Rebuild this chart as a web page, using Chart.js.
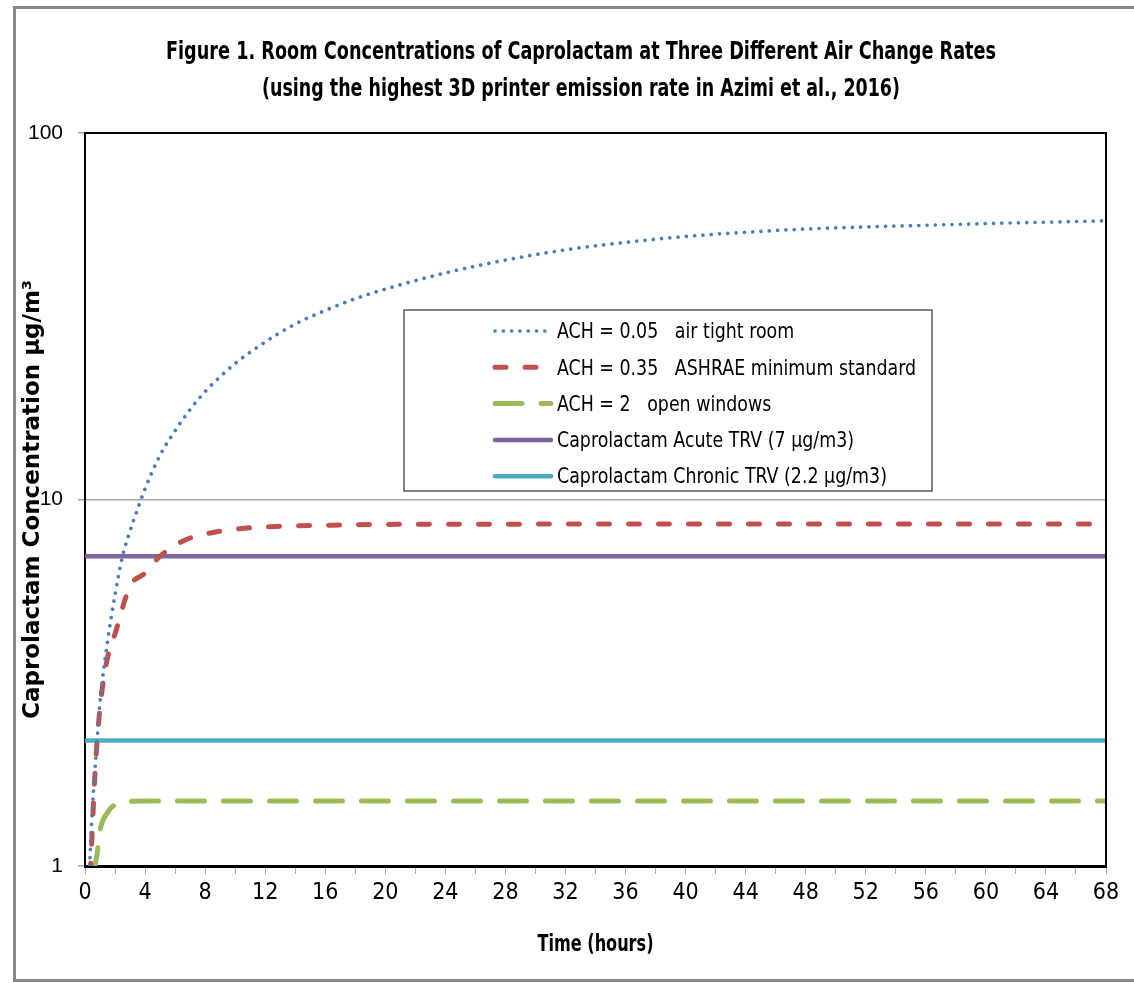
<!DOCTYPE html>
<html>
<head>
<meta charset="utf-8">
<script src="https://cdn.jsdelivr.net/npm/chart.js@4.4.1/dist/chart.umd.min.js"></script>
<style>
  html, body { margin: 0; padding: 0; background: #fff; }
  canvas { display: block; }
</style>
</head>
<body>
<canvas id="chart" width="1134" height="983"></canvas>
<script>
// values (hours, µg/m3)
const hoursBlue = [0.28, 0.5, 0.75, 1, 1.5, 2, 2.5, 3, 3.5, 4, 5, 6, 7, 8, 10, 12, 14, 16, 18, 20, 24, 28, 32, 36, 40, 44, 48, 52, 56, 60, 64, 68];
const concBlue = [0.95, 1.45, 2.05, 2.8, 4.1, 5.5, 7.0, 8.2, 9.4, 10.7, 13.2, 15.4, 17.6, 19.7, 23.5, 26.9, 30.1, 32.8, 35.3, 37.5, 41.5, 45.0, 48.0, 50.3, 52.2, 53.6, 54.7, 55.4, 56.0, 56.6, 57.1, 57.6];

const hoursRed = [0.35, 0.67, 1, 1.5, 2, 3, 4, 5, 6, 7, 8, 10, 13, 16, 20, 24, 32, 40, 48, 56, 68];
const concRed = [0.95, 1.8, 2.7, 3.7, 4.3, 5.8, 6.3, 7.0, 7.5, 7.85, 8.05, 8.3, 8.45, 8.5, 8.55, 8.56, 8.57, 8.58, 8.58, 8.58, 8.58];

const hoursGreen = [0.5, 0.78, 1, 1.5, 2, 3, 4, 68];
const concGreen = [0.95, 1.06, 1.25, 1.40, 1.47, 1.50, 1.505, 1.505];

const hoursTRV = [0, 68];
const acuteTRV = [7, 7];
const chronicTRV = [2.2, 2.2];

const seriesLabels = [
    'ACH = 0.05   air tight room',
    'ACH = 0.35   ASHRAE minimum standard',
    'ACH = 2   open windows',
    'Caprolactam Acute TRV (7 \u00B5g/m3)',
    'Caprolactam Chronic TRV (2.2 \u00B5g/m3)',
];
const yTicks = [1, 10, 100];
const titleLines = [
    'Figure 1. Room Concentrations of Caprolactam at Three Different Air Change Rates',
    '(using the highest 3D printer emission rate in Azimi et al., 2016)',
];
const xTitle = 'Time (hours)';
const yTitle = 'Caprolactam Concentration \u00B5g/m\u00B3';

const NARROW = '"Liberation Sans Narrow", "DejaVu Sans Condensed", sans-serif';

function toPoints(xs, ys) {
    return xs.map((x, i) => ({ x, y: ys[i] }));
}

// draw text squeezed horizontally (the original uses a compressed Calibri)
function squeezedText(ctx, text, x, y, opts) {
    ctx.save();
    ctx.font = opts.font;
    const w = ctx.measureText(text).width;
    const k = opts.width ? Math.min(1, opts.width / w) : (opts.scale || 1);
    ctx.translate(x, y);
    ctx.scale(k, 1);
    ctx.textAlign = opts.align || 'left';
    ctx.textBaseline = 'middle';
    ctx.fillStyle = '#000';
    ctx.fillText(text, 0, 0);
    ctx.restore();
}

const frame = {
    id: 'frame',
    beforeDraw(chart) {
        const ctx = chart.ctx;
        ctx.save();
        ctx.fillStyle = '#fff';
        ctx.fillRect(0, 0, chart.width, chart.height);
        ctx.strokeStyle = '#888';
        ctx.lineWidth = 3;
        ctx.strokeRect(14.5, 7.5, chart.width + 10, 973);
        ctx.restore();
    },
    afterDraw(chart) {
        const ctx = chart.ctx;
        const a = chart.chartArea;
        ctx.save();

        // plot frame top / right
        ctx.strokeStyle = '#000';
        ctx.lineWidth = 2;
        ctx.beginPath();
        ctx.moveTo(a.left, a.top);
        ctx.lineTo(a.right, a.top);
        ctx.lineTo(a.right, a.bottom);
        ctx.stroke();

        // titles
        squeezedText(ctx, titleLines[0], 581, 52, { font: 'bold 25px ' + NARROW, width: 830, align: 'center' });
        squeezedText(ctx, titleLines[1], 581, 89, { font: 'bold 25px ' + NARROW, width: 638, align: 'center' });
        squeezedText(ctx, xTitle, (a.left + a.right) / 2, 945, { font: 'bold 23px ' + NARROW, width: 116, align: 'center' });

        // legend box
        ctx.fillStyle = '#fff';
        ctx.fillRect(404, 310, 528, 181);
        ctx.strokeStyle = '#595959';
        ctx.lineWidth = 1.5;
        ctx.strokeRect(404, 310, 528, 181);

        chart.data.datasets.forEach((ds, i) => {
            const y = 331 + i * 36.3;
            ctx.strokeStyle = ds.borderColor;
            ctx.lineWidth = ds.borderWidth;
            ctx.lineCap = 'round';
            ctx.setLineDash(ds.borderDash || []);
            ctx.beginPath();
            ctx.moveTo(495, y);
            ctx.lineTo(551, y);
            ctx.stroke();
            ctx.setLineDash([]);
            squeezedText(ctx, ds.label, 557, y + 1.5, { font: '22px ' + NARROW, scale: 0.88 });
        });
        ctx.restore();
    }
};

new Chart(document.getElementById('chart'), {
    type: 'line',
    data: {
        datasets: [
            {
                label: seriesLabels[0],
                data: toPoints(hoursBlue, concBlue),
                borderColor: '#4a7ebb',
                borderWidth: 3.7,
                borderDash: [0.01, 8.3],
                borderCapStyle: 'round',
                cubicInterpolationMode: 'monotone',
                pointRadius: 0,
            },
            {
                label: seriesLabels[1],
                data: toPoints(hoursRed, concRed),
                borderColor: '#c0504d',
                borderWidth: 5,
                borderDash: [11, 19],
                borderCapStyle: 'round',
                cubicInterpolationMode: 'monotone',
                pointRadius: 0,
            },
            {
                label: seriesLabels[2],
                data: toPoints(hoursGreen, concGreen),
                borderColor: '#9bbb59',
                borderWidth: 5,
                borderDash: [27, 19],
                borderCapStyle: 'round',
                cubicInterpolationMode: 'monotone',
                pointRadius: 0,
            },
            {
                label: seriesLabels[3],
                data: toPoints(hoursTRV, acuteTRV),
                borderColor: '#8064a2',
                borderWidth: 4.5,
                pointRadius: 0,
            },
            {
                label: seriesLabels[4],
                data: toPoints(hoursTRV, chronicTRV),
                borderColor: '#4bacc6',
                borderWidth: 4.5,
                pointRadius: 0,
            },
        ]
    },
    options: {
        responsive: false,
        animation: false,
        layout: {
            padding: { top: 133, right: 28, bottom: 0, left: 0 }
        },
        plugins: {
            legend: { display: false },
            title: { display: false },
            tooltip: { enabled: false },
        },
        scales: {
            x: {
                type: 'linear',
                min: 0,
                max: 68,
                afterFit: s => { s.height = 117; },
                ticks: {
                    stepSize: 2,
                    autoSkip: false,
                    maxRotation: 0,
                    padding: 5,
                    color: '#000',
                    font: { family: NARROW, size: 23 },
                    callback: v => (v % 4 === 0 ? String(v) : ''),
                },
                grid: {
                    drawOnChartArea: false,
                    tickLength: 8,
                    tickColor: '#a6a6a6',
                },
                border: { color: '#000', width: 3 },
            },
            y: {
                type: 'logarithmic',
                min: 1,
                max: 100,
                afterFit: s => { s.width = 85; },
                afterBuildTicks: s => { s.ticks = yTicks.map(v => ({ value: v })); },
                ticks: {
                    padding: 15,
                    color: '#000',
                    font: { family: '"Liberation Sans", Arial, sans-serif', size: 21 },
                    callback: v => String(v),
                },
                grid: {
                    color: '#a6a6a6',
                    lineWidth: 1.5,
                    tickLength: 7,
                    tickColor: '#a6a6a6',
                },
                border: { color: '#000', width: 2 },
                title: {
                    display: true,
                    text: yTitle,
                    color: '#000',
                    font: { family: '"DejaVu Sans", sans-serif', size: 23, weight: 'bold' },
                    padding: { top: 19, bottom: 0 },
                },
            }
        }
    },
    plugins: [frame]
});
</script>
</body>
</html>
